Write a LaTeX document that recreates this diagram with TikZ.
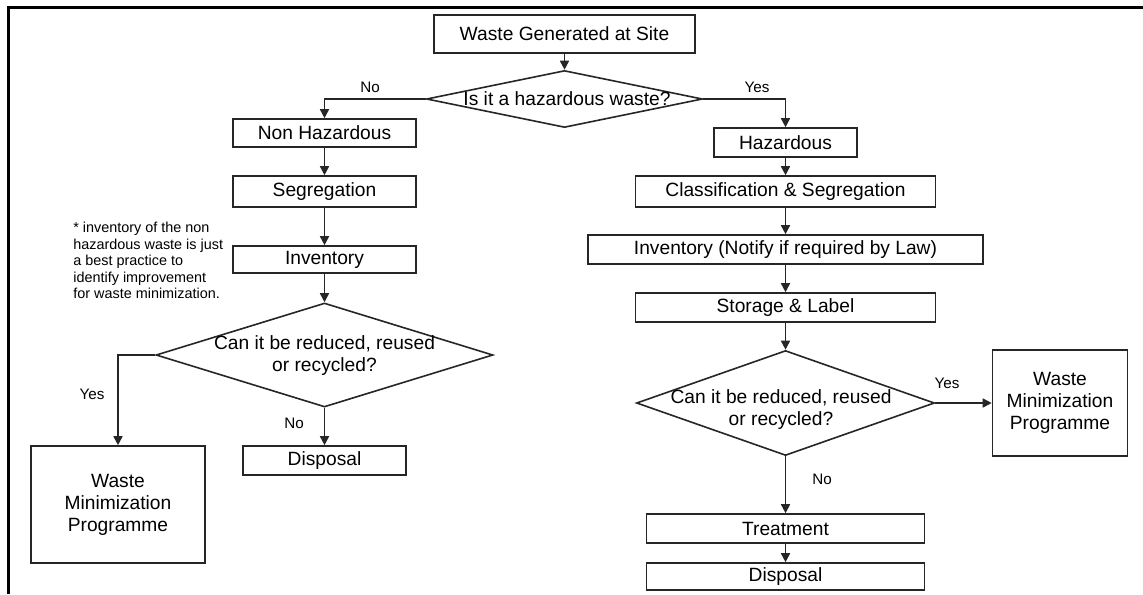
\documentclass[tikz,border=0pt]{standalone}
\usepackage{fontspec}
\setmainfont{Liberation Sans}
\usetikzlibrary{shapes.geometric,arrows.meta}

\begin{document}
\begin{tikzpicture}[x=0.5pt,y=-0.5pt,
    box/.style={draw=black!85, line width=0.8pt, inner sep=0pt, align=center, font=\fontsize{9.6}{11}\selectfont},
    decision/.style={draw=black!85, line width=0.8pt, diamond, inner sep=0pt},
    qtext/.style={align=center, font=\fontsize{9.6}{11}\selectfont},
    answer/.style={font=\fontsize{7.6}{9}\selectfont},
    arr/.style={draw=black!85, line width=0.8pt, -{Triangle[width=4.5pt,length=4.5pt]}}]
            \useasboundingbox (0,0) rectangle (1143,594);

            % Define the page frame
            \draw[line width=1.5pt] (8,594) -- (8,7) -- (1143,7);

            % Define the start and the first question
            \node[box, minimum width=130.5pt, minimum height=19pt] (site) at (564.5,34) {Waste Generated at Site};
            \node[decision, minimum width=138pt, minimum height=28.5pt] (q1) at (564.5,99) {};
            \node[qtext] (q1text) at (567,99) {Is it a hazardous waste?};

            % Define the non hazardous branch
            \node[box, minimum width=91.5pt, minimum height=14pt] (nonhaz) at (324.5,133) {Non Hazardous};
            \node[box, minimum width=91.5pt, minimum height=15.5pt] (seg) at (324.5,191.5) {Segregation};
            \node[box, minimum width=91.5pt, minimum height=13.5pt] (inv) at (324.5,259.5) {Inventory};
            \node[anchor=north west, align=left, inner sep=0pt, font=\fontsize{7.2}{8.25}\selectfont] (note) at (73,222)
                {* inventory of the non\\hazardous waste is just\\a best practice to\\identify improvement\\for waste minimization.};
            \node[decision, minimum width=168.5pt, minimum height=52pt] (q2) at (324.5,355) {};
            \node[qtext] (q2text) at (324.5,356) {Can it be reduced, reused\\or recycled?};
            \node[box, minimum width=87pt, minimum height=58.5pt] (wmpL) at (118,504.5) {Waste\\Minimization\\Programme};
            \node[box, minimum width=81.5pt, minimum height=14.5pt] (dispL) at (324.5,460.5) {Disposal};

            % Define the hazardous branch
            \node[box, minimum width=71.75pt, minimum height=14.5pt] (haz) at (785.5,142.5) {Hazardous};
            \node[box, minimum width=150pt, minimum height=15.5pt] (cls) at (785.5,191.5) {Classification \& Segregation};
            \node[box, minimum width=197.5pt, minimum height=14.5pt] (invR) at (785.5,249.5) {Inventory (Notify if required by Law)};
            \node[box, minimum width=150pt, minimum height=14.5pt] (stor) at (785.5,307.5) {Storage \& Label};
            \node[decision, minimum width=149pt, minimum height=52.5pt] (q3) at (785.5,403) {};
            \node[qtext] (q3text) at (781,410) {Can it be reduced, reused\\or recycled?};
            \node[box, minimum width=67.5pt, minimum height=53pt] (wmpR) at (1060,403) {Waste\\Minimization\\Programme};
            \node[box, minimum width=139pt, minimum height=14.5pt] (treat) at (785.5,528.5) {Treatment};
            \node[box, minimum width=139pt, minimum height=13.5pt] (dispR) at (785.5,576.5) {Disposal};

            % Add the answers
            \node[answer] (no1) at (370,87) {No};
            \node[answer] (yes1) at (757,87) {Yes};
            \node[answer] (yes2) at (92,394) {Yes};
            \node[answer] (no2) at (294,423) {No};
            \node[answer] (yes3) at (947,383) {Yes};
            \node[answer] (no3) at (822,479) {No};

            % Add the arrows
            \draw[arr] (site) -- (q1);
            \draw[arr] (q1.west) -| (nonhaz.north);
            \draw[arr] (q1.east) -| (haz.north);
            \draw[arr] (nonhaz) -- (seg);
            \draw[arr] (seg) -- (inv);
            \draw[arr] (inv) -- (q2);
            \draw[arr] (q2.west) -| (wmpL.north);
            \draw[arr] (q2.south) -- (dispL.north);
            \draw[arr] (haz) -- (cls);
            \draw[arr] (cls) -- (invR);
            \draw[arr] (invR) -- (stor);
            \draw[arr] (stor) -- (q3);
            \draw[arr] (q3.east) -- (wmpR.west);
            \draw[arr] (q3.south) -- (treat.north);
            \draw[arr] (treat) -- (dispR);
        \end{tikzpicture}
\end{document}
